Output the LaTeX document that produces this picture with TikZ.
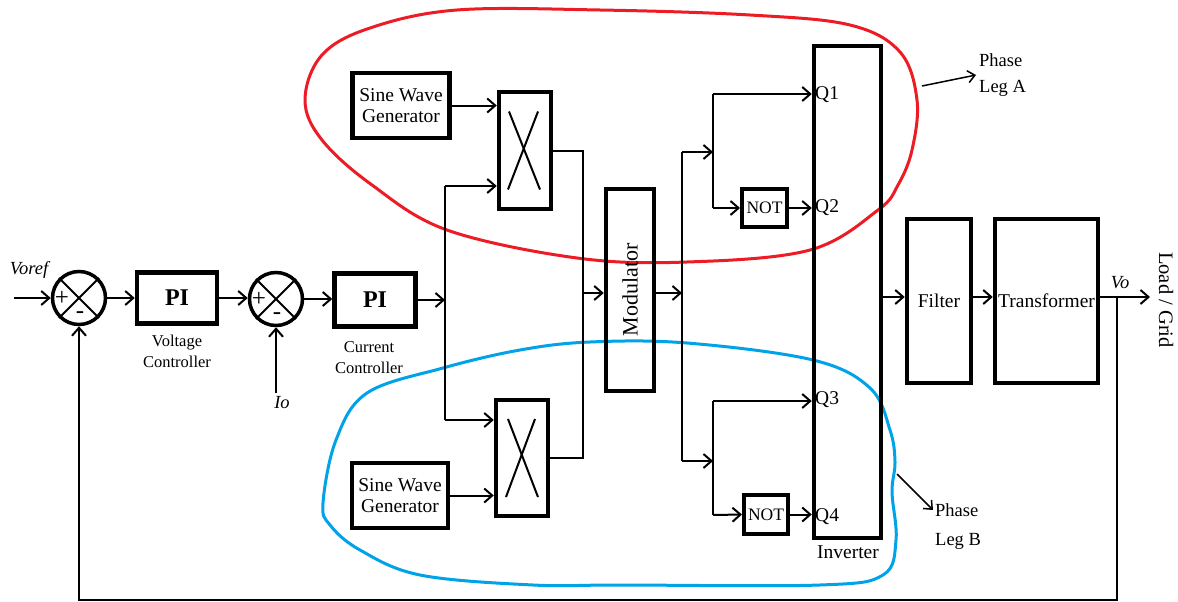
\documentclass[tikz,border=0pt]{standalone}
\usepackage{fontspec}
\setmainfont{Liberation Serif}
\usetikzlibrary{arrows.meta}
\begin{document}
\begin{tikzpicture}[x=1pt,y=-1pt,
  blk/.style={draw, line width=4.5pt, inner sep=0pt, align=center, font=\fontsize{19.5}{21}\selectfont},
  sumc/.style={draw, circle, line width=3.5pt, minimum size=53pt, inner sep=0pt},
  wire/.style={line width=2pt},
  conn/.style={wire, -{Straight Barb[length=8pt,width=14pt]}},
  lbl/.style={font=\fontsize{16.5}{21}\selectfont, align=center, inner sep=0pt},
  txt/.style={font=\fontsize{19.5}{28}\selectfont, align=left, inner sep=0pt},
  itl/.style={font=\itshape\fontsize{18.5}{20}\selectfont, inner sep=0pt},
  sym/.style={font=\fontsize{25}{27}\selectfont, inner sep=0pt},
  xline/.style={line width=2pt}]
\useasboundingbox (0,0) rectangle (1178,602);

% highlight curves
\draw[draw={rgb,255:red,237;green,28;blue,36}, line width=3pt] plot[smooth cycle, tension=0.6] coordinates {
 (305,100) (322,55) (370,28) (457,10) (600,10) (750,15) (850,25) (900,52) (917,100) (912,150) (898,185) (878,210) (810,250) (687,262) (577,258) (447,230) (372,185) (322,140)};
\draw[draw={rgb,255:red,0;green,162;blue,232}, line width=3pt] plot[smooth cycle, tension=0.6] coordinates {
 (323,503) (336,440) (367,393) (443,368) (520,350) (590,342) (687,343) (813,360) (870,388) (890,430) (895,462) (892,492) (896,540) (883,575) (820,585) (620,585) (533,585) (420,575) (360,550) (330,525)};

% summing junctions
\node[sumc] (s1) at (79,298) {};
\draw[xline] (s1.north west) -- (s1.south east) (s1.north east) -- (s1.south west);
\node[sym] (s1p) at (62,298) {+};
\node[sym] (s1m) at (80,315) {-};
\node[sumc] (s2) at (276,299) {};
\draw[xline] (s2.north west) -- (s2.south east) (s2.north east) -- (s2.south west);
\node[sym] (s2p) at (259,299) {+};
\node[sym] (s2m) at (277,316) {-};

% blocks
\node[blk, minimum width=80pt, minimum height=51pt, font=\bfseries\fontsize{24}{26}\selectfont] (pi1) at (177,298) {PI};
\node[blk, minimum width=81pt, minimum height=53pt, font=\bfseries\fontsize{24}{26}\selectfont] (pi2) at (375,300) {PI};
\node[blk, minimum width=97pt, minimum height=65pt] (sw1) at (401,105.5) {Sine Wave\\Generator};
\node[blk, minimum width=96pt, minimum height=65pt] (sw2) at (400,495.5) {Sine Wave\\Generator};
\node[blk, minimum width=52pt, minimum height=117pt] (mul1) at (525,150.5) {};
\node[blk, minimum width=52pt, minimum height=116pt] (mul2) at (522,458) {};
\draw[xline] (mul1.center) ++(-16,-39) -- ++(31,78);
\draw[xline] (mul1.center) ++(13,-39) -- ++(-30,78);
\draw[xline] (mul2.center) ++(-14,-39) -- ++(30,78);
\draw[xline] (mul2.center) ++(13,-39) -- ++(-29,78);
\node[blk, minimum width=48pt, minimum height=202pt] (mod) at (630,290) {};
\node[font=\fontsize{22}{24}\selectfont, rotate=90, inner sep=0pt] (modt) at (mod.center) {Modulator};
\node[blk, line width=4pt, minimum width=45pt, minimum height=38pt, font=\fontsize{17.5}{19}\selectfont] (not1) at (764.5,208) {NOT};
\node[blk, line width=4pt, minimum width=44pt, minimum height=39pt, font=\fontsize{17.5}{19}\selectfont] (not2) at (766,514.5) {NOT};
\node[blk, minimum width=67pt, minimum height=492pt] (inv) at (847.5,292) {};
\node[blk, minimum width=64pt, minimum height=164pt] (filt) at (939,301) {Filter};
\node[blk, minimum width=103pt, minimum height=164pt] (tr) at (1046.5,301) {Transformer};

% labels
\node[lbl] (vcl) at (177,351) {Voltage\\Controller};
\node[lbl] (ccl) at (369,357.5) {Current\\Controller};
\node[itl] (voref) at (29,270) {Voref};
\node[itl] (iol) at (282,403) {Io};
\node[itl] (vol) at (1120,283) {Vo};
\node[txt, anchor=west] (q1) at (815,95) {Q1};
\node[txt, anchor=west] (q2) at (815,208) {Q2};
\node[txt, anchor=west] (q3) at (815,400) {Q3};
\node[txt, anchor=west] (q4) at (815,517) {Q4};
\node[txt] (invl) at (848,552) {Inverter};
\node[font=\fontsize{20.5}{22}\selectfont, rotate=-90, inner sep=0pt] (load) at (1166,300) {Load / Grid};
\node[txt, anchor=west, font=\fontsize{18.5}{26}\selectfont] (pla) at (979,75) {Phase\\Leg A};
\node[txt, anchor=west, font=\fontsize{18.5}{29}\selectfont] (plb) at (935,527) {Phase\\Leg B};

% coordinates
\coordinate (vin) at (14,298);
\coordinate (io) at (276,393);
\coordinate (busT) at (445,186);
\coordinate (busM) at (445,300);
\coordinate (busB) at (445,420);
\coordinate (m1) at (583,150.5);
\coordinate (m2) at (583,458);
\coordinate (modin) at (583,293);
\coordinate (modout) at (682,293);
\coordinate (d1) at (682,152);
\coordinate (d2) at (682,461);
\coordinate (e1) at (713,152);
\coordinate (e2) at (713,461);
\coordinate (f1) at (713,94);
\coordinate (f2) at (713,208);
\coordinate (g1) at (713,401);
\coordinate (g2) at (713,515);
\coordinate (outy) at (0,297);
\coordinate (load1) at (1150,297);
\coordinate (fb1) at (1117,297);
\coordinate (fb2) at (1117,600);
\coordinate (fb3) at (79,600);
\coordinate (pa1) at (922,86);
\coordinate (pa2) at (976,75);
\coordinate (pb1) at (897,474);
\coordinate (pb2) at (933,510);

% connectors
\draw[conn] (vin) -- (s1.west);
\draw[conn] (s1.east) -- (s1.east -| pi1.west);
\draw[conn] (pi1.east) -- (pi1.east -| s2.west);
\draw[conn] (io) -- (s2.south);
\draw[conn] (s2.east) -- (s2.east -| pi2.west);
\draw[conn] (pi2.east) -- (busM);
\draw[wire] (busT) -- (busB);
\draw[conn] (busT) -- (busT -| mul1.west);
\draw[conn] (busB) -- (busB -| mul2.west);
\draw[conn] (sw1.east) -- (sw1.east -| mul1.west);
\draw[conn] (sw2.east) -- (sw2.east -| mul2.west);
\draw[wire] (mul1.east) -- (m1) -- (m2) -- (mul2.east);
\draw[conn] (modin) -- (modin -| mod.west);
\draw[conn] (modout -| mod.east) -- (modout);
\draw[wire] (d1) -- (d2);
\draw[conn] (d1) -- (e1);
\draw[conn] (d2) -- (e2);
\draw[wire] (f1) -- (f2);
\draw[wire] (g1) -- (g2);
\draw[conn] (f1) -- (f1 -| inv.west);
\draw[conn] (f2) -- (not1.west);
\draw[conn] (not1.east) -- (not1.east -| inv.west);
\draw[conn] (g1) -- (g1 -| inv.west);
\draw[conn] (g2) -- (not2.west);
\draw[conn] (not2.east) -- (not2.east -| inv.west);
\draw[conn] (inv.east |- outy) -- (filt.west |- outy);
\draw[conn] (filt.east |- outy) -- (tr.west |- outy);
\draw[conn] (tr.east |- outy) -- (load1);
\draw[conn] (fb1) -- (fb2) -- (fb3) -- (s1.south);
\draw[line width=1.5pt, -{Straight Barb[length=7pt,width=12pt]}] (pa1) -- (pa2);
\draw[line width=1.5pt, -{Straight Barb[length=7pt,width=12pt]}] (pb1) -- (pb2);
\end{tikzpicture}
\end{document}
